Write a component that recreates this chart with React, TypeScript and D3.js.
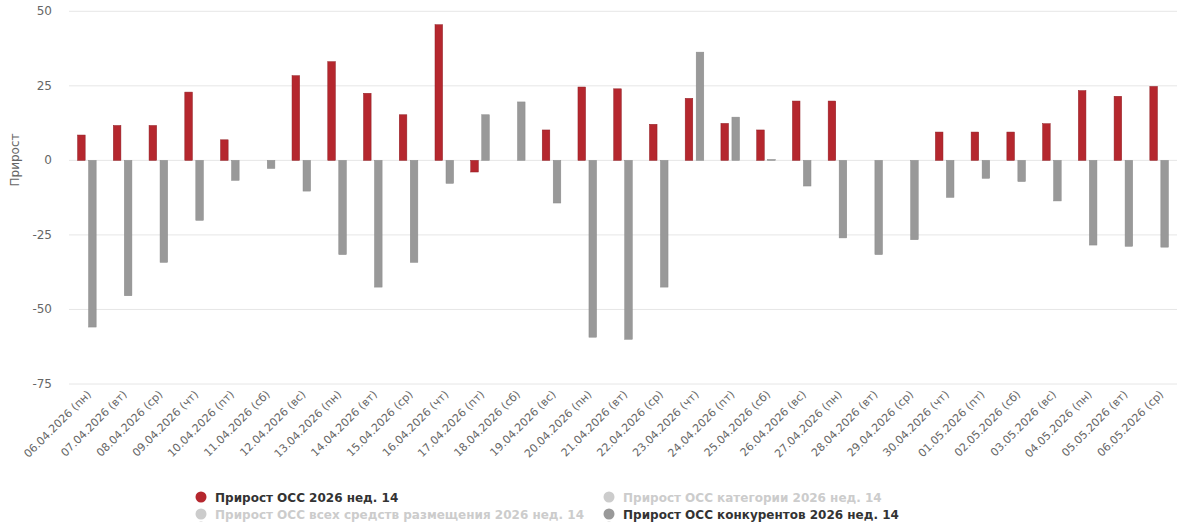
import * as d3 from "d3";
import React from "react";

const days = [
	"06.04.2026 (пн)", "07.04.2026 (вт)", "08.04.2026 (ср)", "09.04.2026 (чт)",
	"10.04.2026 (пт)", "11.04.2026 (сб)", "12.04.2026 (вс)", "13.04.2026 (пн)",
	"14.04.2026 (вт)", "15.04.2026 (ср)", "16.04.2026 (чт)", "17.04.2026 (пт)",
	"18.04.2026 (сб)", "19.04.2026 (вс)", "20.04.2026 (пн)", "21.04.2026 (вт)",
	"22.04.2026 (ср)", "23.04.2026 (чт)", "24.04.2026 (пт)", "25.04.2026 (сб)",
	"26.04.2026 (вс)", "27.04.2026 (пн)", "28.04.2026 (вт)", "29.04.2026 (ср)",
	"30.04.2026 (чт)", "01.05.2026 (пт)", "02.05.2026 (сб)", "03.05.2026 (вс)",
	"04.05.2026 (пн)", "05.05.2026 (вт)", "06.05.2026 (ср)",
];

// Прирост ОСС 2026 нед. 14
const ownGrowth = [
	8.5, 11.7, 11.7, 22.9, 6.9, 0, 28.4, 33.1, 22.5, 15.3, 45.5, -3.9, 0, 10.2,
	24.6, 24.0, 12.1, 20.8, 12.4, 10.2, 19.9, 19.9, 0, 0, 9.5, 9.5, 9.5, 12.3,
	23.4, 21.5, 24.8,
];

// Прирост ОСС конкурентов 2026 нед. 14
const competitorGrowth = [
	-55.9, -45.4, -34.2, -20.1, -6.7, -2.7, -10.3, -31.6, -42.5, -34.2, -7.7,
	15.3, 19.6, -14.3, -59.3, -60.0, -42.5, 36.3, 14.5, 0.3, -8.6, -26.0, -31.6,
	-26.6, -12.4, -6.0, -7.1, -13.6, -28.4, -28.8, -29.1,
];

const yTicks = [50, 25, 0, -25, -50, -75];

const legendItems = [
	{ name: "Прирост ОСС 2026 нед. 14", color: "#b5272e", visible: true },
	{ name: "Прирост ОСС категории 2026 нед. 14", color: "#cccccc", visible: false },
	{ name: "Прирост ОСС всех средств размещения 2026 нед. 14", color: "#cccccc", visible: false },
	{ name: "Прирост ОСС конкурентов 2026 нед. 14", color: "#999999", visible: true },
];

const W = 1200;
const H = 522;
const left = 69;
const right = 1177;
const font = "'DejaVu Sans', 'Lucida Grande', sans-serif";

export default function App() {
	const x = d3.scaleBand<string>().domain(days).range([left, right]);
	const y = d3.scaleLinear().domain([-75, 50]).range([384, 11.3]);
	const inner = d3
		.scaleBand<string>()
		.domain(["own", "comp"])
		.range([0, x.bandwidth()])
		.paddingInner(0.31)
		.paddingOuter(0.78);

	const series = [
		{ key: "own", values: ownGrowth, fill: "#b5272e", stroke: "#8f1d23" },
		{ key: "comp", values: competitorGrowth, fill: "#999999", stroke: "#8a8a8a" },
	];

	return (
		<div style={{ position: "absolute", left: 0, top: 0 }}>
			<svg width={W} height={H} style={{ display: "block", fontFamily: font }}>
				<rect width={W} height={H} fill="#ffffff" />
				{yTicks.map((t) => (
					<g key={t}>
						<line x1={left} x2={right} y1={y(t)} y2={y(t)} stroke="#e6e6e6" strokeWidth={1} />
						<text x={52} y={y(t) + 4} textAnchor="end" fontSize={12} fill="#666666">
							{t < 0 ? `-${Math.abs(t)}` : t}
						</text>
					</g>
				))}
				<text
					transform={`translate(19,160) rotate(-90)`}
					textAnchor="middle"
					fontSize={12}
					fill="#666666"
				>
					Прирост
				</text>
				{series.map((s) =>
					s.values.map((v, i) => {
						if (v === 0) return null;
						const x0 = (x(days[i]) ?? 0) + (inner(s.key) ?? 0);
						const y0 = y(Math.max(0, v));
						const h = Math.abs(y(v) - y(0));
						return (
							<rect
								key={`${s.key}-${i}`}
								x={x0}
								y={y0}
								width={inner.bandwidth()}
								height={Math.max(h, 0.8)}
								fill={s.fill}
								stroke={s.stroke}
								strokeWidth={0.5}
							/>
						);
					}),
				)}
				{days.map((d) => {
					const cx = (x(d) ?? 0) + x.bandwidth() / 2 + 5;
					const cy = 395;
					return (
						<text
							key={d}
							x={cx}
							y={cy}
							transform={`rotate(-45 ${cx} ${cy})`}
							textAnchor="end"
							fontSize={11}
							fill="#666666"
						>
							{d}
						</text>
					);
				})}
				{legendItems.map((item, i) => {
					const col = i % 2;
					const row = Math.floor(i / 2);
					const lx = col === 0 ? 201 : 609;
					const ly = 497 + row * 17;
					return (
						<g key={item.name}>
							<circle cx={lx} cy={ly} r={5.5} fill={item.color} />
							<text
								x={lx + 14}
								y={ly + 4.5}
								fontSize={12}
								fontWeight="bold"
								fill={item.visible ? "#333333" : "#cccccc"}
							>
								{item.name}
							</text>
						</g>
					);
				})}
				<circle cx={201} cy={527} r={5.5} fill="#cccccc" />
				<circle cx={609} cy={527} r={5.5} fill="#cccccc" />
			</svg>
		</div>
	);
}
